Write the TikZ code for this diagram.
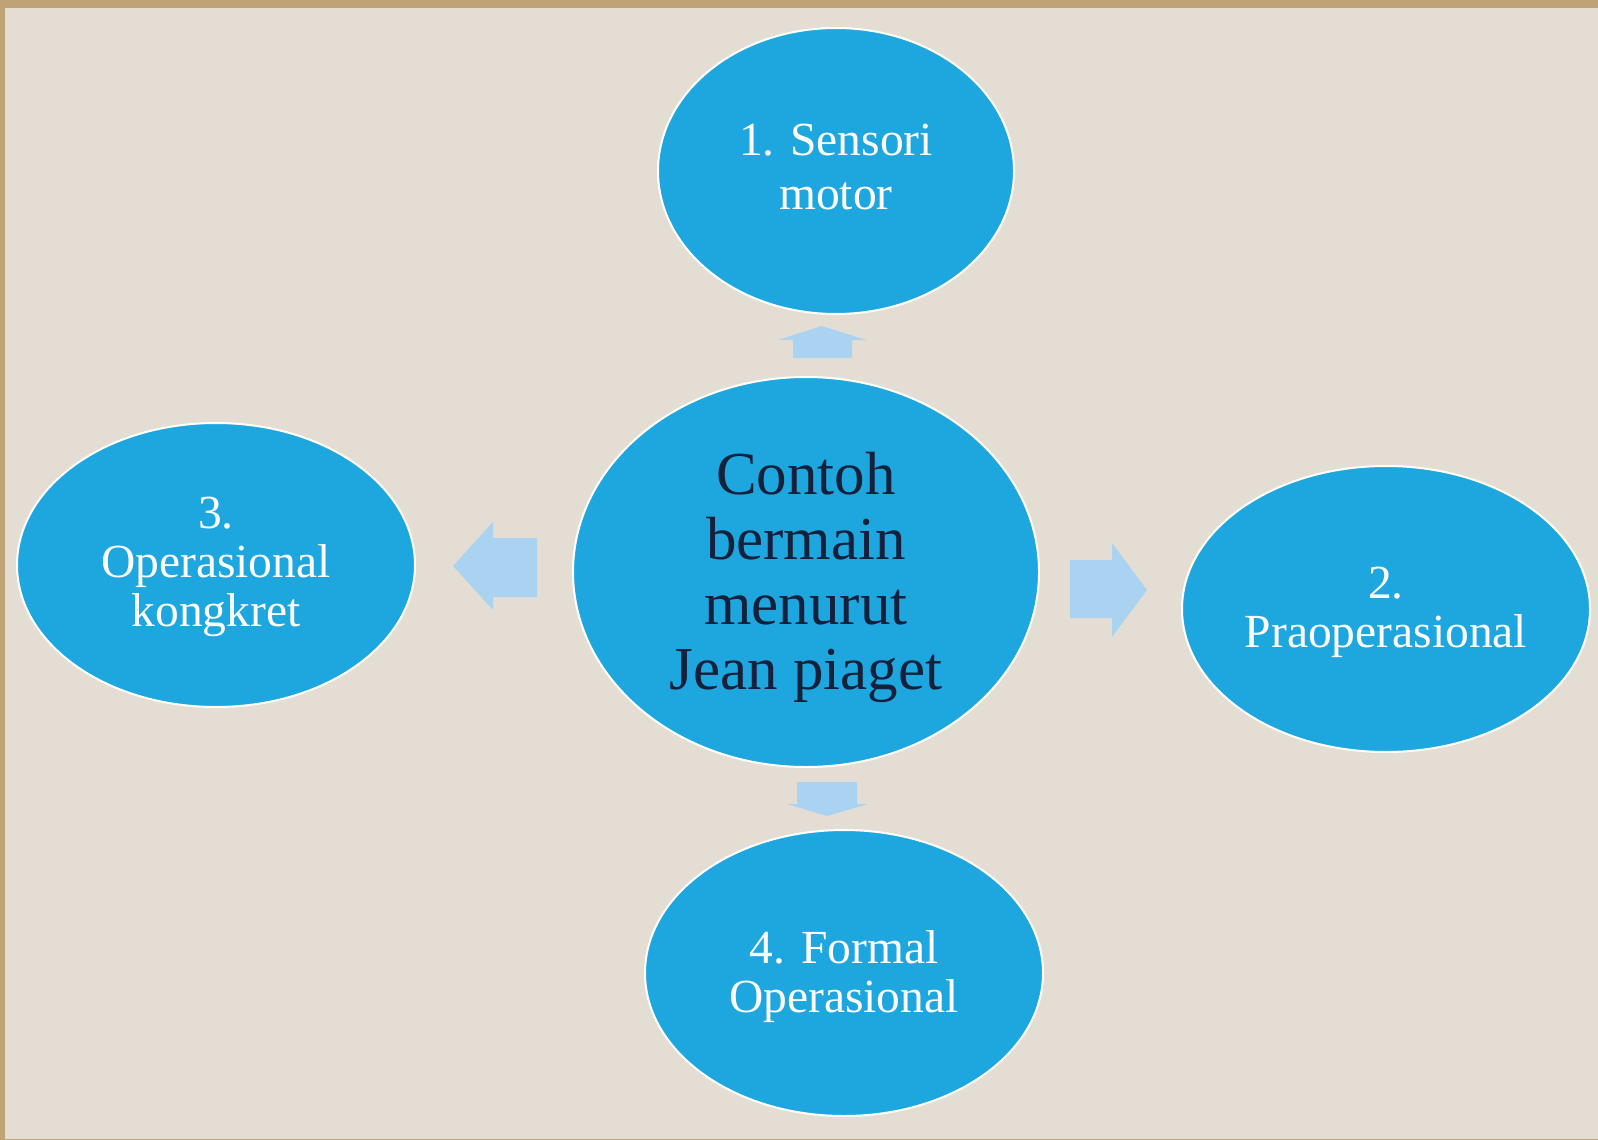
\documentclass[tikz,border=0pt]{standalone}
\usepackage{fontspec}
\setmainfont{Liberation Serif}
\usetikzlibrary{shapes.geometric}
\definecolor{frame}{HTML}{BFA276}
\definecolor{panel}{HTML}{E4DDD3}
\definecolor{bubble}{HTML}{1EA7DF}
\definecolor{arrowblue}{HTML}{A9D3F1}
\definecolor{navy}{HTML}{15203A}
\newcommand{\txtlines}[2]{\raisebox{#1}[\height][\depth]{\begin{tabular}{@{}c@{}}#2\end{tabular}}}
\tikzset{
  bubblenode/.style={ellipse, fill=bubble, draw=white, line width=2pt, inner sep=0pt, align=center, text=white, font=\fontsize{47.5}{49}\selectfont},
  centernode/.style={bubblenode, text=navy, font=\fontsize{61}{65}\selectfont},
  blockarrow/.style={fill=arrowblue, draw=none},
}
\begin{document}
\begin{tikzpicture}[x=1pt,y=-1pt]
\useasboundingbox (0,0) rectangle (1598,1140);
\fill[frame] (0,0) rectangle (1598,1140);
\fill[panel] (5,8) rectangle (1598,1139);
% nodes
\node[centernode, minimum width=466pt, minimum height=390pt] (c) at (806,572) {\txtlines{-7pt}{Contoh\\bermain\\menurut\\Jean piaget}};
\node[bubblenode, minimum width=356pt, minimum height=286pt] (s1) at (836,171) {\txtlines{-2pt}{1. Sensori\\[5pt]motor}};
\node[bubblenode, minimum width=408pt, minimum height=286pt] (s2) at (1386,609) {\txtlines{-4pt}{2.\\Praoperasional}};
\node[bubblenode, minimum width=398pt, minimum height=284pt] (s3) at (216,565) {\txtlines{-3pt}{3.\\Operasional\\kongkret}};
\node[bubblenode, minimum width=398pt, minimum height=286pt] (s4) at (844,973) {\txtlines{-5pt}{4. Formal\\Operasional}};
% block arrows
\fill[blockarrow] (793,358) -- (793,340) -- (778,340) -- (822,326) -- (866,340) -- (852,340) -- (852,358) -- cycle;
\fill[blockarrow] (797,782) -- (857,782) -- (857,804) -- (868,804) -- (827,816) -- (787,804) -- (797,804) -- cycle;
\fill[blockarrow] (537,538) -- (493,538) -- (493,522) -- (453,566) -- (493,610) -- (493,597) -- (537,597) -- cycle;
\fill[blockarrow] (1070,560) -- (1112,560) -- (1112,543) -- (1147,590) -- (1112,637) -- (1112,618) -- (1070,618) -- cycle;
\end{tikzpicture}
\end{document}
